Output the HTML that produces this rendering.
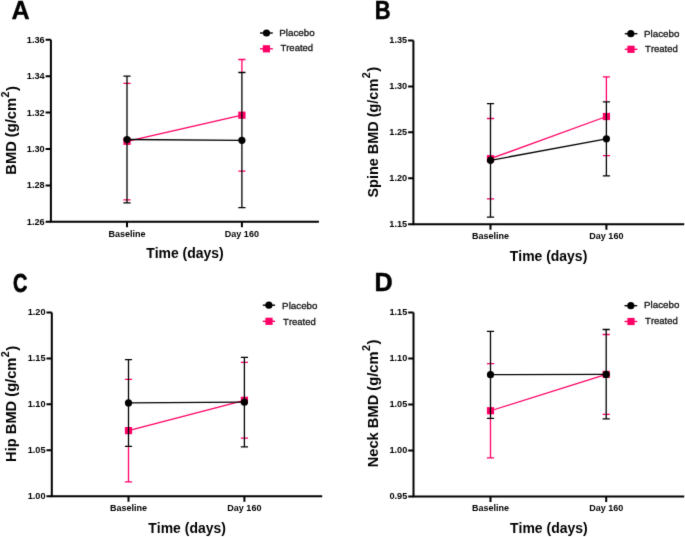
<!DOCTYPE html>
<html><head><meta charset="utf-8"><title>BMD charts</title><style>
html,body{margin:0;padding:0;background:#fff;}
svg{display:block;will-change:transform;}
.ax{stroke:#000;stroke-width:2.0;fill:none;}
text{font-family:"Liberation Sans",sans-serif;font-kerning:none;}
.b{font-weight:bold;fill:#000;}
.r{fill:#111;stroke:#111;stroke-width:0.3px;}
</style></head><body>
<svg width="685" height="537" viewBox="0 0 685 537" font-family="Liberation Sans, sans-serif">
<defs><filter id="soft" x="0" y="0" width="685" height="537" filterUnits="userSpaceOnUse" color-interpolation-filters="sRGB"><feConvolveMatrix order="3" kernelMatrix="0.01 0.08 0.01 0.08 0.64 0.08 0.01 0.08 0.01" edgeMode="duplicate"/></filter></defs>
<g filter="url(#soft)">
<rect width="685" height="537" fill="#fff"/>
<text transform="translate(11.52 18.65) scale(0.9522 1)" class="b" font-size="26.45" stroke="#000" stroke-width="0.3" stroke-linejoin="round">A</text>
<path d="M50.9 39.8V221.8M49.9 221.8H318.9" class="ax"/>
<path d="M45.6 39.8H50.9M45.6 76.2H50.9M45.6 112.6H50.9M45.6 149H50.9M45.6 185.4H50.9M45.6 221.8H50.9M127 221.8V227.3M241.9 221.8V227.3" class="ax"/>
<text transform="translate(26.82 42.7) scale(0.9850 1)" class="b" font-size="9.3">1.36</text>
<text transform="translate(26.82 79.1) scale(0.9850 1)" class="b" font-size="9.3">1.34</text>
<text transform="translate(26.82 115.5) scale(0.9850 1)" class="b" font-size="9.3">1.32</text>
<text transform="translate(26.82 151.9) scale(0.9850 1)" class="b" font-size="9.3">1.30</text>
<text transform="translate(26.82 188.3) scale(0.9850 1)" class="b" font-size="9.3">1.28</text>
<text transform="translate(26.82 224.7) scale(0.9850 1)" class="b" font-size="9.3">1.26</text>
<text transform="translate(108.46 236.5) scale(0.9800 1)" class="b" font-size="9.2">Baseline</text>
<text transform="translate(224.86 236.5) scale(0.9800 1)" class="b" font-size="9.2">Day 160</text>
<text transform="translate(146.14 258.1) scale(0.9624 1)" class="b" font-size="14.5">Time (days)</text>
<g transform="translate(16.2 173.7) rotate(-90)"><text transform="translate(-0.98 0) scale(1.0142 1)" class="b" font-size="14.5">BMD (g/cm</text><text x="76.23" y="-7.6" class="b" font-size="10.7">2</text><text x="82.69" y="0.5" class="b" font-size="14.7">)</text></g>
<path d="M123.4 83.3h7.2M123.4 199.8h7.2M238.3 59.5h7.2M238.3 171.2h7.2M241.9 59.5V72.5" stroke="#ff0066" stroke-width="1.3" fill="none"/>
<path d="M127 141.3L241.9 115.2" stroke="#ff0066" stroke-width="1.3" fill="none"/>
<rect x="123.4" y="137.7" width="7.2" height="7.2" fill="#ff0066"/>
<rect x="238.3" y="111.6" width="7.2" height="7.2" fill="#ff0066"/>
<path d="M127 76.2V202.8M123.4 76.2h7.2M123.4 202.8h7.2M241.9 72.5V207.7M238.3 72.5h7.2M238.3 207.7h7.2" stroke="#000" stroke-width="1.3" fill="none"/>
<path d="M127 139.5L241.9 140.3" stroke="#000" stroke-width="1.3" fill="none"/>
<circle cx="127" cy="139.5" r="3.6" fill="#000"/>
<circle cx="241.9" cy="140.3" r="3.6" fill="#000"/>
<path d="M260 33H272.8" stroke="#000" stroke-width="1.4"/>
<circle cx="266.5" cy="33" r="3.6" fill="#000"/>
<path d="M260 48.8H272.8" stroke="#ff0066" stroke-width="1.4"/>
<rect x="262.8" y="45.2" width="7.2" height="7.2" fill="#ff0066"/>
<text x="279.3" y="35.6" class="r" font-size="9.8">Placebo</text><text transform="translate(280.39 51.3) scale(0.9700 1)" class="r" font-size="9.8">Treated</text>
<text transform="translate(374.78 18.95) scale(0.8445 1)" class="b" font-size="26.02" stroke="#000" stroke-width="0.5" stroke-linejoin="round">B</text>
<path d="M413.4 40.4V224.3M412.4 224.3H684.2" class="ax"/>
<path d="M408.1 40.4H413.4M408.1 86.38H413.4M408.1 132.35H413.4M408.1 178.33H413.4M408.1 224.3H413.4M490.5 224.3V229.8M606.4 224.3V229.8" class="ax"/>
<text transform="translate(389.32 43.3) scale(0.9850 1)" class="b" font-size="9.3">1.35</text>
<text transform="translate(389.32 89.28) scale(0.9850 1)" class="b" font-size="9.3">1.30</text>
<text transform="translate(389.32 135.25) scale(0.9850 1)" class="b" font-size="9.3">1.25</text>
<text transform="translate(389.32 181.23) scale(0.9850 1)" class="b" font-size="9.3">1.20</text>
<text transform="translate(389.32 227.2) scale(0.9850 1)" class="b" font-size="9.3">1.15</text>
<text transform="translate(471.96 239) scale(0.9800 1)" class="b" font-size="9.2">Baseline</text>
<text transform="translate(589.36 239) scale(0.9800 1)" class="b" font-size="9.2">Day 160</text>
<text transform="translate(509.74 261) scale(0.9637 1)" class="b" font-size="14.5">Time (days)</text>
<g transform="translate(377.7 197.1) rotate(-90)"><text transform="translate(-0.42 0) scale(0.9965 1)" class="b" font-size="14.5">Spine BMD (g/cm</text><text x="118.83" y="-7.6" class="b" font-size="10.7">2</text><text x="125.29" y="0.5" class="b" font-size="14.7">)</text></g>
<path d="M486.9 118.5h7.2M486.9 198.9h7.2M602.8 76.8h7.2M602.8 155.7h7.2M606.4 76.8V101.8" stroke="#ff0066" stroke-width="1.3" fill="none"/>
<path d="M490.5 158.7L606.4 116.5" stroke="#ff0066" stroke-width="1.3" fill="none"/>
<rect x="486.9" y="155.1" width="7.2" height="7.2" fill="#ff0066"/>
<rect x="602.8" y="112.9" width="7.2" height="7.2" fill="#ff0066"/>
<path d="M490.5 103.7V217.2M486.9 103.7h7.2M486.9 217.2h7.2M606.4 101.8V175.8M602.8 101.8h7.2M602.8 175.8h7.2" stroke="#000" stroke-width="1.3" fill="none"/>
<path d="M490.5 160.35L606.4 138.8" stroke="#000" stroke-width="1.3" fill="none"/>
<circle cx="490.5" cy="160.35" r="3.6" fill="#000"/>
<circle cx="606.4" cy="138.8" r="3.6" fill="#000"/>
<path d="M624.8 33.7H637.4" stroke="#000" stroke-width="1.4"/>
<circle cx="630.8" cy="33.7" r="3.6" fill="#000"/>
<path d="M624.8 49.3H637.4" stroke="#ff0066" stroke-width="1.4"/>
<rect x="627.4" y="45.7" width="7.2" height="7.2" fill="#ff0066"/>
<text x="644" y="36.6" class="r" font-size="9.8">Placebo</text><text transform="translate(645.09 52.4) scale(0.9700 1)" class="r" font-size="9.8">Treated</text>
<text transform="translate(13.08 291.65) scale(0.7651 1)" class="b" font-size="25.99" stroke="#000" stroke-width="0.8" stroke-linejoin="round">C</text>
<path d="M51.8 312.4V496.3M50.8 496.3H322.2" class="ax"/>
<path d="M46.5 312.4H51.8M46.5 358.38H51.8M46.5 404.35H51.8M46.5 450.32H51.8M46.5 496.3H51.8M128.5 496.3V501.8M244.4 496.3V501.8" class="ax"/>
<text transform="translate(27.72 315.3) scale(0.9850 1)" class="b" font-size="9.3">1.20</text>
<text transform="translate(27.72 361.27) scale(0.9850 1)" class="b" font-size="9.3">1.15</text>
<text transform="translate(27.72 407.25) scale(0.9850 1)" class="b" font-size="9.3">1.10</text>
<text transform="translate(27.72 453.22) scale(0.9850 1)" class="b" font-size="9.3">1.05</text>
<text transform="translate(27.72 499.2) scale(0.9850 1)" class="b" font-size="9.3">1.00</text>
<text transform="translate(109.96 511) scale(0.9800 1)" class="b" font-size="9.2">Baseline</text>
<text transform="translate(227.36 511) scale(0.9800 1)" class="b" font-size="9.2">Day 160</text>
<text transform="translate(148.34 532.6) scale(0.9612 1)" class="b" font-size="14.5">Time (days)</text>
<g transform="translate(16.3 460.9) rotate(-90)"><text transform="translate(-0.98 0) scale(1.0115 1)" class="b" font-size="14.5">Hip BMD (g/cm</text><text x="103.73" y="-7.6" class="b" font-size="10.7">2</text><text x="110.19" y="0.5" class="b" font-size="14.7">)</text></g>
<path d="M124.9 379.4h7.2M124.9 481.8h7.2M128.5 446.3V481.8M240.8 362.4h7.2M240.8 438.2h7.2" stroke="#ff0066" stroke-width="1.3" fill="none"/>
<path d="M128.5 430.6L244.4 400.3" stroke="#ff0066" stroke-width="1.3" fill="none"/>
<rect x="124.9" y="427" width="7.2" height="7.2" fill="#ff0066"/>
<rect x="240.8" y="396.7" width="7.2" height="7.2" fill="#ff0066"/>
<path d="M128.5 359.6V446.3M124.9 359.6h7.2M124.9 446.3h7.2M244.4 357.4V446.9M240.8 357.4h7.2M240.8 446.9h7.2" stroke="#000" stroke-width="1.3" fill="none"/>
<path d="M128.5 402.9L244.4 402.2" stroke="#000" stroke-width="1.3" fill="none"/>
<circle cx="128.5" cy="402.9" r="3.6" fill="#000"/>
<circle cx="244.4" cy="402.2" r="3.6" fill="#000"/>
<path d="M262.8 305.2H275.1" stroke="#000" stroke-width="1.4"/>
<circle cx="268.9" cy="305.2" r="3.6" fill="#000"/>
<path d="M262.8 321.3H275.1" stroke="#ff0066" stroke-width="1.4"/>
<rect x="265.4" y="317.7" width="7.2" height="7.2" fill="#ff0066"/>
<text x="282.1" y="308.5" class="r" font-size="9.8">Placebo</text><text transform="translate(283.09 324.6) scale(0.9700 1)" class="r" font-size="9.8">Treated</text>
<text transform="translate(374.57 290.85) scale(0.9760 1)" class="b" font-size="25.73" stroke="#000" stroke-width="0.5" stroke-linejoin="round">D</text>
<path d="M413.5 312.4V496.4M412.5 496.4H684.2" class="ax"/>
<path d="M408.2 312.4H413.5M408.2 358.4H413.5M408.2 404.4H413.5M408.2 450.4H413.5M408.2 496.4H413.5M490.5 496.4V501.9M606.2 496.4V501.9" class="ax"/>
<text transform="translate(389.42 315.3) scale(0.9850 1)" class="b" font-size="9.3">1.15</text>
<text transform="translate(389.42 361.3) scale(0.9850 1)" class="b" font-size="9.3">1.10</text>
<text transform="translate(389.42 407.3) scale(0.9850 1)" class="b" font-size="9.3">1.05</text>
<text transform="translate(389.42 453.3) scale(0.9850 1)" class="b" font-size="9.3">1.00</text>
<text transform="translate(389.42 499.3) scale(0.9850 1)" class="b" font-size="9.3">0.95</text>
<text transform="translate(471.96 511.1) scale(0.9800 1)" class="b" font-size="9.2">Baseline</text>
<text transform="translate(589.16 511.1) scale(0.9800 1)" class="b" font-size="9.2">Day 160</text>
<text transform="translate(510.04 532.6) scale(0.9637 1)" class="b" font-size="14.5">Time (days)</text>
<g transform="translate(377.9 466.3) rotate(-90)"><text transform="translate(-0.98 0) scale(1.0120 1)" class="b" font-size="14.5">Neck BMD (g/cm</text><text x="115.23" y="-7.6" class="b" font-size="10.7">2</text><text x="121.69" y="0.5" class="b" font-size="14.7">)</text></g>
<path d="M486.9 363.7h7.2M486.9 457.9h7.2M490.5 418.4V457.9M602.6 334.5h7.2M602.6 414.4h7.2" stroke="#ff0066" stroke-width="1.3" fill="none"/>
<path d="M490.5 410.75L606.2 374.4" stroke="#ff0066" stroke-width="1.3" fill="none"/>
<rect x="486.9" y="407.15" width="7.2" height="7.2" fill="#ff0066"/>
<rect x="602.6" y="370.8" width="7.2" height="7.2" fill="#ff0066"/>
<path d="M490.5 331.3V418.4M486.9 331.3h7.2M486.9 418.4h7.2M606.2 329.5V418.8M602.6 329.5h7.2M602.6 418.8h7.2" stroke="#000" stroke-width="1.3" fill="none"/>
<path d="M490.5 374.7L606.2 374.4" stroke="#000" stroke-width="1.3" fill="none"/>
<circle cx="490.5" cy="374.7" r="3.6" fill="#000"/>
<circle cx="606.2" cy="374.4" r="3.6" fill="#000"/>
<path d="M624.5 305.7H637.2" stroke="#000" stroke-width="1.4"/>
<circle cx="630.8" cy="305.7" r="3.6" fill="#000"/>
<path d="M624.5 321.5H637.2" stroke="#ff0066" stroke-width="1.4"/>
<rect x="627.4" y="317.9" width="7.2" height="7.2" fill="#ff0066"/>
<text x="644" y="308.4" class="r" font-size="9.8">Placebo</text><text transform="translate(645.09 324.3) scale(0.9700 1)" class="r" font-size="9.8">Treated</text>
</g>
</svg>
</body></html>
